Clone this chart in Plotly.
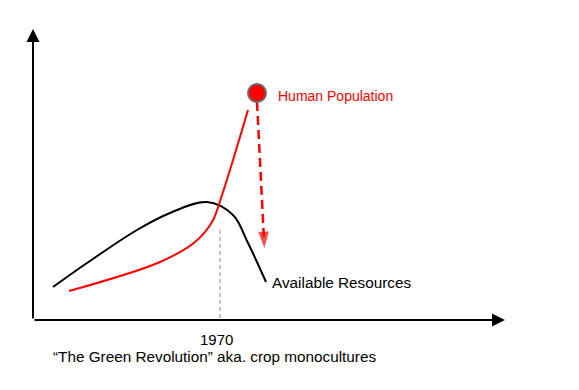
import plotly.graph_objects as go

# Data (chart units: x to the right of the y axis, y above the x axis)
res_x = [20, 54, 104, 137, 174, 200, 215, 233]
res_y = [33, 57, 90, 107, 118, 105, 77, 38]

pop_x = [36, 127, 162, 179, 189, 215]
pop_y = [29, 58, 78, 98, 125, 210]

peak_x = [224]
peak_y = [227]

collapse_x = [224, 231]
collapse_y = [218, 80]
collapse_tip = [231.4, 72]

year_x = 187
year_label = "1970"
cross_y = 90

x_axis_end = 472
y_axis_end = 291

FONT = "Arial, Liberation Sans, sans-serif"

fig = go.Figure()

# vertical gray dashed marker at 1970
fig.add_trace(go.Scatter(x=[year_x, year_x], y=[cross_y, 0], mode="lines",
                         line=dict(color="#8c8c8c", width=1, dash="4px,3px"),
                         hoverinfo="skip"))

fig.add_trace(go.Scatter(x=res_x, y=res_y, mode="lines",
                         line=dict(color="black", width=2, shape="spline", smoothing=1.0),
                         hoverinfo="skip"))
fig.add_trace(go.Scatter(x=pop_x, y=pop_y, mode="lines",
                         line=dict(color="#ff0000", width=2, shape="spline", smoothing=1.0),
                         hoverinfo="skip"))

# dashed collapse arrow
fig.add_trace(go.Scatter(x=collapse_x, y=collapse_y, mode="lines",
                         line=dict(color="#ff0000", width=2.5, dash="9px,5px"),
                         hoverinfo="skip"))
fig.add_trace(go.Scatter(x=[collapse_x[0], collapse_tip[0]], y=[collapse_y[0], collapse_tip[1]],
                         mode="markers",
                         marker=dict(symbol="arrow", size=[0, 17], color="#ff0000",
                                     angleref="previous", line=dict(width=0)),
                         hoverinfo="skip"))

# peak marker
fig.add_trace(go.Scatter(x=peak_x, y=peak_y, mode="markers",
                         marker=dict(size=18, color="#ff0000", line=dict(color="#6b6b6b", width=2)),
                         hoverinfo="skip"))

# axes with arrows
fig.add_annotation(x=x_axis_end, y=0, ax=0, ay=0, xref="x", yref="y", axref="x", ayref="y",
                   showarrow=True, arrowhead=2, arrowsize=1.3, arrowwidth=2, arrowcolor="black", text="")
fig.add_annotation(x=0, y=y_axis_end, ax=0, ay=0, xref="x", yref="y", axref="x", ayref="y",
                   showarrow=True, arrowhead=2, arrowsize=1.3, arrowwidth=2, arrowcolor="black", text="")

fig.add_annotation(x=243, y=224, text="Human Population", showarrow=False, xanchor="left", yanchor="middle",
                   font=dict(family=FONT, size=14, color="#ff0000"))
fig.add_annotation(x=237, y=38, text="Available Resources", showarrow=False, xanchor="left", yanchor="middle",
                   font=dict(family=FONT, size=15.3, color="black"))
fig.add_annotation(x=183, y=-19, text=year_label, showarrow=False, xanchor="center", yanchor="middle",
                   font=dict(family=FONT, size=15, color="black"))
fig.add_annotation(x=18, y=-36, text="“The Green Revolution” aka. crop monocultures", showarrow=False,
                   xanchor="left", yanchor="middle",
                   font=dict(family=FONT, size=15.3, color="black"))

fig.update_layout(
    width=579, height=390,
    margin=dict(l=0, r=0, t=0, b=0),
    paper_bgcolor="white", plot_bgcolor="white",
    showlegend=False,
    xaxis=dict(range=[-25, 554], visible=False, fixedrange=True),
    yaxis=dict(range=[-78, 312], visible=False, fixedrange=True),
)

fig.write_html("out.html")
